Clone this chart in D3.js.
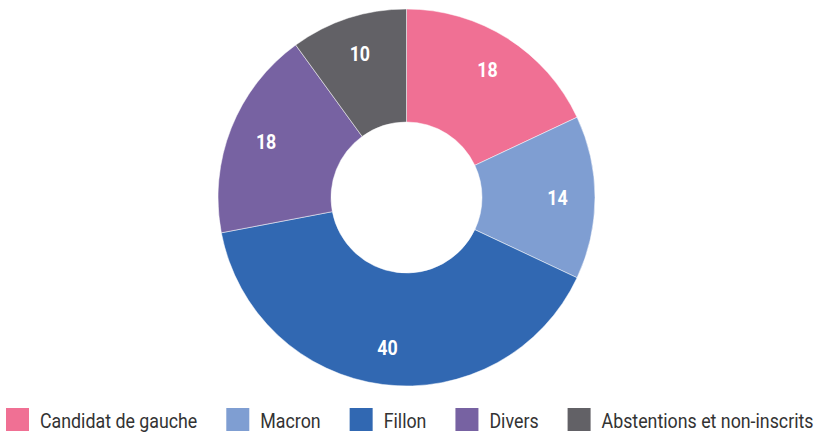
<!DOCTYPE html>
<html>
<head>
<meta charset="utf-8">
<script src="https://cdn.jsdelivr.net/npm/d3@7"></script>
<style>
  body { margin: 0; background: #fff; }
  svg { display: block; }
  text { font-family: "Roboto", "Liberation Sans", sans-serif; }
</style>
</head>
<body>
<div id="chart"></div>
<script>
// data
const categories = ["Candidat de gauche", "Macron", "Fillon", "Divers", "Abstentions et non-inscrits"];
const values = [18, 14, 40, 18, 10];
const colors = ["#F07094", "#7F9ED2", "#3168B2", "#7762A2", "#626166"];

const width = 826, height = 432;
const cx = 406.5, cy = 197.5;
const outerR = 188.5, innerR = 75.5, labelR = 151;
const squeeze = 0.89; // the original uses a condensed face

const svg = d3.select("#chart").append("svg")
    .attr("width", width)
    .attr("height", height);

const g = svg.append("g")
    .attr("transform", `translate(${cx},${cy})`);

const pie = d3.pie().sort(null).value(d => d.value);
const arcs = pie(categories.map((c, i) => ({name: c, value: values[i], color: colors[i]})));

const arc = d3.arc().innerRadius(innerR).outerRadius(outerR);
const labelArc = d3.arc().innerRadius(labelR).outerRadius(labelR);

g.selectAll("path.slice")
    .data(arcs)
    .join("path")
    .classed("slice", true)
    .attr("d", arc)
    .attr("fill", d => d.data.color)
    .attr("stroke", "#fff")
    .attr("stroke-width", 0.5);

g.selectAll("text.value")
    .data(arcs)
    .join("text")
    .classed("value", true)
    .attr("transform", d => `translate(${labelArc.centroid(d)}) scale(${squeeze},1)`)
    .attr("text-anchor", "middle")
    .attr("dy", "0.36em")
    .attr("fill", "#fff")
    .style("font-size", "20px")
    .style("font-weight", "bold")
    .text(d => d.data.value);

// legend, laid out left to right
const legend = svg.append("g").attr("transform", "translate(6,408)");
let x = 0;
categories.forEach((c, i) => {
    const item = legend.append("g").attr("transform", `translate(${x},0)`);
    item.append("rect")
        .attr("width", 23)
        .attr("height", 23)
        .attr("fill", colors[i]);
    const t = item.append("text")
        .attr("transform", `translate(34,20) scale(${squeeze},1)`)
        .attr("fill", "#333")
        .style("font-size", "20px")
        .text(c);
    x += 34 + t.node().getComputedTextLength() * squeeze + 29;
});
</script>
</body>
</html>
